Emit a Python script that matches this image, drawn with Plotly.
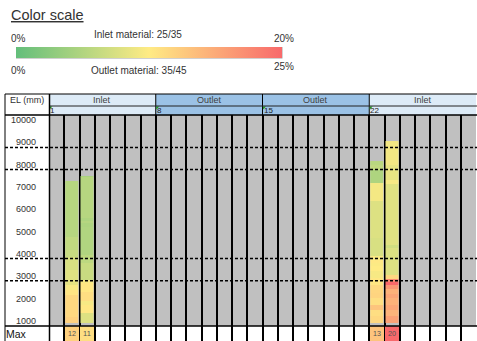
import plotly.graph_objects as go

# ---------------- data ----------------
col_numbers = list(range(1, 29))
group_names = ["Inlet", "Outlet", "Outlet", "Inlet"]
group_first_col = [1, 8, 15, 22]
group_colors = ["#ddebf7", "#9bc2e6", "#9bc2e6", "#ddebf7"]
el_ticks = [1000, 2000, 3000, 4000, 5000, 6000, 7000, 8000, 9000, 10000]
dashed_levels = [8770, 7780, 3790, 2790]

# measured bars: segment edges (EL, mm) and percentage per segment
col2_edges = [880, 1170, 2150, 2380, 2600, 2830, 3270, 3860, 4170, 4750, 7265]
col2_pct = [12, 11.5, 10.5, 9.5, 8.3, 8, 7.5, 6.5, 6, 5.3]
col3_edges = [880, 1345, 1700, 1900, 2300, 2690, 2825, 3590, 3950, 5215, 5395, 5480, 5590, 7430, 7489]
col3_pct = [7.8, 10.3, 9.5, 11, 10.3, 9.5, 6.5, 5.8, 5.0, 4.8, 5.3, 4.8, 5.3, 4.5]
col22_edges = [880, 1200, 1490, 1720, 2020, 2240, 2390, 2610, 2915, 3215, 3450, 3590, 3740, 3890,
               4710, 6355, 7175, 7776, 7996, 8161]
col22_pct = [11.5, 11, 13, 11, 11.8, 11.6, 11.3, 10.3, 9.5, 10, 9.8, 10.2, 9.6, 7.5, 7.8, 9.3, 4.8, 6, 5.5]
col23_edges = [880, 1200, 1490, 1720, 2000, 2200, 2430, 2580, 2730, 2880, 3030, 4260, 4410, 4710,
               7140, 7320, 8000, 9058]
col23_pct = [15.6, 14.2, 15.3, 14.5, 15.3, 14.5, 16.5, 20, 17.5, 11.5, 7.8, 7, 8.1, 8, 9.5, 8.5, 9.2]
bars = [(2, col2_edges, col2_pct), (3, col3_edges, col3_pct),
        (22, col22_edges, col22_pct), (23, col23_edges, col23_pct)]

max_cols = [2, 3, 22, 23]
max_pct = [12, 11, 13, 20]

colorscale = [[0, "#63BE7B"], [0.5, "#FFEB84"], [1, "#F8696B"]]

# ---------------- layout helpers ----------------
W, H = 477, 341
ML, MR, MT, MB = 49, 1, 115, 0
PW, PH = W - ML - MR, H - MT - MB


def px(X):
    return (X - ML) / PW


def py(Y):
    return (H - MB - Y) / PH


FONT = "Liberation Sans"
TXT = "#333333"

fig = go.Figure()

BW = 0.87
for c, edges, pct in bars:
    fig.add_trace(go.Heatmap(
        x=[c - BW / 2, c + BW / 2], y=edges, z=[[v] for v in pct],
        coloraxis="coloraxis", hoverinfo="skip", xaxis="x", yaxis="y"))

fig.add_trace(go.Bar(
    x=max_cols, y=[1] * len(max_cols), width=BW,
    marker=dict(color=max_pct, coloraxis="coloraxis", line=dict(width=0)),
    text=[str(v) for v in max_pct], textposition="inside", insidetextanchor="middle",
    textfont=dict(size=7.5, color="#555555", family=FONT),
    xaxis="x2", yaxis="y2", hoverinfo="skip", showlegend=False))

bottom_dom = (H - MB - 326) / PH

fig.update_layout(
    width=W, height=H, margin=dict(l=ML, r=MR, t=MT, b=MB),
    paper_bgcolor="white", plot_bgcolor="rgba(0,0,0,0)",
    showlegend=False, bargap=0,
    font=dict(family=FONT, color=TXT),
    xaxis=dict(range=[0.5, 28.5], tickvals=[c + 0.5 for c in [0] + col_numbers], showticklabels=False,
               showgrid=True, gridcolor="black", gridwidth=2, zeroline=False, ticks="",
               anchor="y", showline=False),
    yaxis=dict(domain=[bottom_dom, 1], range=[762, 10224], tickvals=el_ticks,
               ticktext=[str(v) for v in el_ticks], showgrid=False, zeroline=False, ticks="",
               ticklabelstandoff=12, tickfont=dict(size=9, color=TXT, family=FONT)),
    xaxis2=dict(range=[0.5, 28.5], matches="x", tickvals=[c + 0.5 for c in [0] + col_numbers],
                showticklabels=False, showgrid=True, gridcolor="black", gridwidth=2,
                zeroline=False, ticks="", anchor="y2"),
    yaxis2=dict(domain=[0, bottom_dom], range=[0, 1], showticklabels=False, showgrid=False,
                zeroline=False, ticks=""),
    coloraxis=dict(colorscale=colorscale, cmin=0, cmax=20,
                   colorbar=dict(orientation="h", x=px(16), xanchor="left", y=py(47), yanchor="top",
                                 len=266, lenmode="pixels", thickness=11, thicknessmode="pixels",
                                 showticklabels=False, ticks="", outlinewidth=0, xpad=0, ypad=0)),
)

shapes = []
# gray grid background
shapes.append(dict(type="rect", xref="x", yref="y", x0=0.5, x1=28.5, y0=762, y1=10224,
                   fillcolor="#c0c0c0", line=dict(width=0), layer="below"))
# header groups
for name, first, colr in zip(group_names, group_first_col, group_colors):
    shapes.append(dict(type="rect", xref="x", yref="paper", x0=first - 0.5, x1=first + 6.5,
                       y0=py(115), y1=py(94), fillcolor=colr, line=dict(width=0), layer="below"))
    if first > 1:
        shapes.append(dict(type="line", xref="x", yref="paper", x0=first - 0.5, x1=first - 0.5,
                           y0=py(115), y1=py(94), line=dict(color="black", width=1)))
    # green error triangle
    x0 = first - 0.5
    shapes.append(dict(type="path", xref="x", yref="paper",
                       path=f"M {x0 + 0.03},{py(106.5)} L {x0 + 0.23},{py(106.5)} L {x0 + 0.03},{py(109.5)} Z",
                       fillcolor="#1e9b1e", line=dict(width=0)))
# header borders
shapes.append(dict(type="line", xref="paper", yref="paper", x0=px(5), x1=px(477), y0=py(94), y1=py(94),
                   line=dict(color="black", width=1)))
shapes.append(dict(type="line", xref="paper", yref="paper", x0=px(49.5), x1=px(477), y0=py(106), y1=py(106),
                   line=dict(color="#222222", width=1)))
shapes.append(dict(type="line", xref="paper", yref="paper", x0=px(5), x1=px(477), y0=py(115), y1=py(115),
                   line=dict(color="black", width=1.5)))
shapes.append(dict(type="line", xref="paper", yref="paper", x0=px(5), x1=px(477), y0=py(326), y1=py(326),
                   line=dict(color="black", width=1.5)))
shapes.append(dict(type="line", xref="paper", yref="paper", x0=px(5), x1=px(5), y0=py(94), y1=py(345),
                   line=dict(color="black", width=1)))
shapes.append(dict(type="line", xref="paper", yref="paper", x0=px(49.5), x1=px(49.5), y0=py(94), y1=py(345),
                   line=dict(color="black", width=1.5)))
# dashed level lines
for lv in dashed_levels:
    shapes.append(dict(type="line", xref="paper", yref="y", x0=px(5), x1=px(477), y0=lv, y1=lv,
                       line=dict(color="black", width=1.5, dash="3px,2px"), layer="above"))
# colour-scale bar edge (3D look)
shapes.append(dict(type="line", xref="paper", yref="paper", x0=px(282), x1=px(282), y0=py(47), y1=py(58.5),
                   line=dict(color="#a6a6a6", width=1)))
shapes.append(dict(type="line", xref="paper", yref="paper", x0=px(16), x1=px(282), y0=py(58.5), y1=py(58.5),
                   line=dict(color="#d0d0d0", width=1)))

ann = []


def add_text(text, X, Y, size, xanchor="center", color=TXT, xref="paper"):
    ann.append(dict(text=text, x=X if xref != "paper" else px(X), y=py(Y), xref=xref, yref="paper",
                    xanchor=xanchor, yanchor="middle", showarrow=False,
                    font=dict(size=size, color=color, family=FONT)))


add_text("<u>Color scale</u>", 9, 15, 14.5, xanchor="left")
add_text("0%", 9, 39, 10, xanchor="left")
add_text("Inlet material: 25/35", 138, 35, 10)
add_text("20%", 284, 39, 10)
add_text("25%", 284, 66, 10)
add_text("0%", 9, 71, 10, xanchor="left")
add_text("Outlet material: 35/45", 139, 71, 10)
add_text("EL (mm)", 27, 100, 9)
add_text("Max", 4, 334, 10.5, xanchor="left", color="#111111")
for name, first in zip(group_names, group_first_col):
    add_text(name, first + 3, 100, 9, xref="x", color="#404040")
    ann.append(dict(text=str(first), x=first - 0.5, y=py(110.5), xref="x", yref="paper", xanchor="left",
                    yanchor="middle", showarrow=False, xshift=-1,
                    font=dict(size=8, color="#222222", family=FONT)))

fig.update_layout(shapes=shapes, annotations=ann)
fig.write_html("out.html")
